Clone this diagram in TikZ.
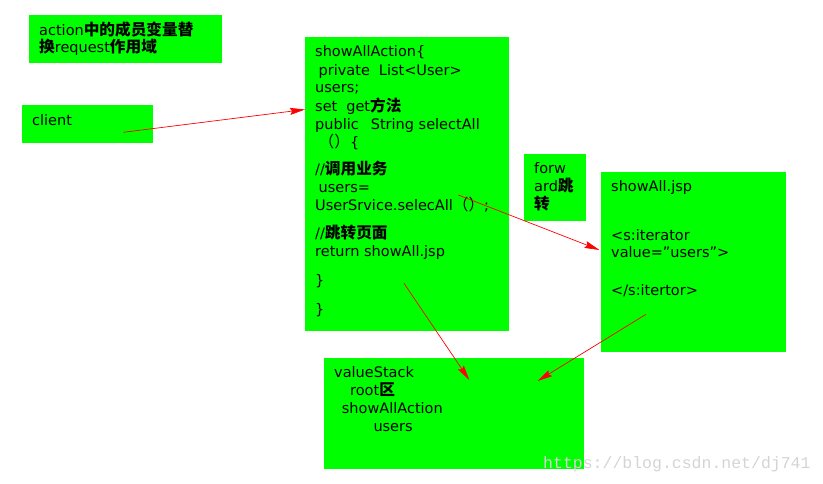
\documentclass[tikz,border=0pt]{standalone}
\usepackage{fontspec}
\setmainfont{DejaVu Sans}
\newfontfamily\cjk[Scale=1.08]{Noto Sans CJK SC}
\newfontfamily\wmfont{Liberation Mono}
\usetikzlibrary{arrows.meta}
\definecolor{boxgreen}{RGB}{0,255,0}
\definecolor{wmgray}{RGB}{212,212,212}
\newcommand{\zh}[1]{{\cjk\bfseries #1}}
\newcommand{\zhp}[1]{{\cjk #1}}
\tikzset{
  gbox/.style={fill=boxgreen, draw=none, anchor=north west, inner sep=0pt},
  txt/.style={anchor=base west, inner sep=0pt, font=\fontsize{14.5}{18}\selectfont},
  redarrow/.style={draw=red, line width=0.7pt, -{Stealth[length=15pt,width=7pt,inset=2pt]}},
  wmark/.style={anchor=base west, inner sep=0pt, text=wmgray, font=\wmfont\fontsize{16.5}{18}\selectfont}
}
\begin{document}
\begin{tikzpicture}[x=1pt,y=-1pt]
\useasboundingbox (0,0) rectangle (823,483);
% boxes
\node[gbox, minimum width=193pt, minimum height=48pt] (note) at (29,15) {};
\node[gbox, minimum width=131pt, minimum height=38pt] (client) at (22,105) {};
\node[gbox, minimum width=204pt, minimum height=294pt] (action) at (305,37) {};
\node[gbox, minimum width=62pt, minimum height=67pt] (fwd) at (524,154) {};
\node[gbox, minimum width=185pt, minimum height=180pt] (jsp) at (601,172) {};
\node[gbox, minimum width=260pt, minimum height=111pt] (vs) at (324,358) {};
% note text
\node[txt] (n1) at (39,35) {action\zh{中的成员变量替}};
\node[txt] (n2) at (39,52.7) {\zh{换}request\zh{作用域}};
% client
\node[txt] (c1) at (32,125) {client};
% action text
\node[txt] (t1) at (315,56.7) {showAllAction\{};
\node[txt] (t2) at (318.5,75) {private\hspace{9pt}List<User>};
\node[txt] (t3) at (315,92.3) {users;};
\node[txt] (t4) at (315,111) {set\hspace{9pt}get\zh{方法}};
\node[txt] (t5) at (315,129.3) {public\hspace{12pt}String selectAll};
\node[txt] (t6) at (318.5,147.7) {\zhp{（）}\{};
\node[txt] (t7) at (315,174.3) {//\zh{调用业务}};
\node[txt] (t8) at (318.5,192.7) {users=};
\node[txt] (t9) at (315,210.7) {UserSrvice.selecAll\zhp{（）};};
\node[txt] (t10) at (315,238.3) {//\zh{跳转页面}};
\node[txt] (t11) at (315,256.7) {return showAll.jsp};
\node[txt] (t12) at (315,285) {\}};
\node[txt] (t13) at (315,314.3) {\}};
% forward text
\node[txt] (f1) at (534,173.3) {forw};
\node[txt] (f2) at (534,191.7) {ard\zh{跳}};
\node[txt] (f3) at (534,209.3) {\zh{转}};
% jsp text
\node[txt] (j1) at (611,191.7) {showAll.jsp};
\node[txt] (j2) at (611,240) {<s:iterator};
\node[txt] (j3) at (611,257.3) {value=\symbol{34}users\symbol{34}>};
\node[txt] (j4) at (611,295) {</s:itertor>};
% valueStack text
\node[txt] (v1) at (334,377.7) {valueStack};
\node[txt] (v2) at (350,395.7) {root\zh{区}};
\node[txt] (v3) at (341.7,413.3) {showAllAction};
\node[txt] (v4) at (373.3,431) {users};
% watermark
\node[wmark] (wm) at (543,468) {https://blog.csdn.net/dj741};
% connectors
\coordinate (a1s) at (123.3,132.3);
\coordinate (a1e) at (305,109.5);
\coordinate (a2s) at (458.3,195);
\coordinate (a2e) at (599.5,250);
\coordinate (a3s) at (404,283.3);
\coordinate (a3e) at (469.3,380);
\coordinate (a4s) at (646,314.3);
\coordinate (a4e) at (537.5,381);
\draw[redarrow] (a1s) -- (a1e);
\draw[redarrow] (a2s) -- (a2e);
\draw[redarrow] (a3s) -- (a3e);
\draw[redarrow] (a4s) -- (a4e);
\end{tikzpicture}
\end{document}
